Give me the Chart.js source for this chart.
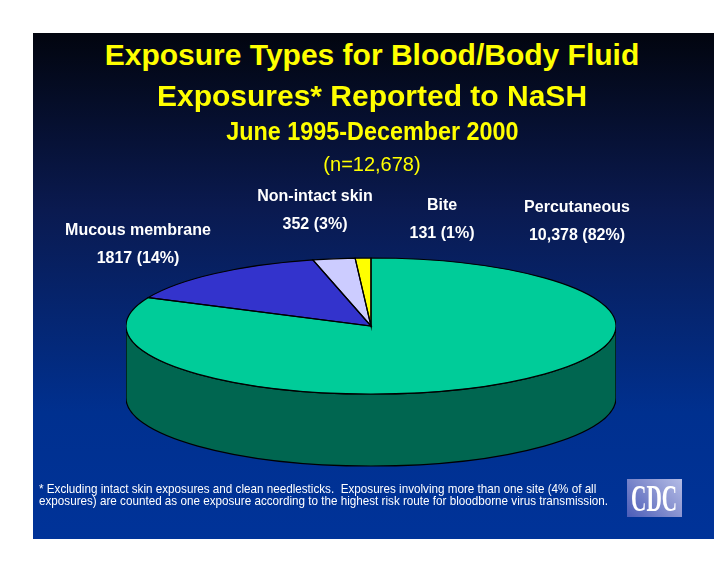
<!DOCTYPE html>
<html>
<head>
<meta charset="utf-8">
<script src="https://cdn.jsdelivr.net/npm/chart.js@4"></script>
<style>
  html, body { margin: 0; padding: 0; background: #fff; width: 728px; height: 563px; overflow: hidden; }
  #slide {
    position: absolute; left: 33px; top: 33px; width: 681px; height: 506px;
    background: linear-gradient(to bottom, #02050f 0%, #0a1a50 35%, #00308f 75%, #003399 100%);
    overflow: hidden;
  }
  .t { position: absolute; left: 8px; width: 728px; text-align: center; white-space: nowrap;
       font-family: "Liberation Sans", Arial, sans-serif; }
  .title { color: #ffff00; font-weight: bold; }
  .lab { position: absolute; color: #fff; font: bold 16px/16px "Liberation Sans", Arial, sans-serif;
         white-space: nowrap; transform: translateX(-50%); }
  #wrap { position: absolute; left: 126px; top: 81px; width: 490px; height: 490px; }
  #note { position: absolute; left: 39px; top: 483px; color: #fff; white-space: pre;
          font: 13px/12px "Liberation Sans", Arial, sans-serif; transform-origin: 0 0; }
  #cdc { position: absolute; left: 627px; top: 479px; width: 55px; height: 38px;
         background: linear-gradient(45deg, #4a5cb8 0%, #8c96d2 60%, #b4bce6 100%);
         display: flex; justify-content: center; align-items: center; overflow: hidden; }
  #cdc span { display: inline-block; color: #fff; font: bold 38px/38px "Liberation Serif", "Times New Roman", serif;
              transform: scaleX(0.56); white-space: nowrap; }
</style>
</head>
<body>
<div id="slide"></div>
<div id="wrap"><canvas id="pizza" width="490" height="490"></canvas></div>

<div class="t title" style="top:40px;font-size:30px;line-height:30px;">Exposure Types for Blood/Body Fluid</div>
<div class="t title" style="top:81px;font-size:30px;line-height:30px;">Exposures* Reported to NaSH</div>
<div class="t title" style="top:119px;font-size:25px;line-height:25px;"><span style="display:inline-block;transform:scaleX(0.935)">June 1995-December 2000</span></div>
<div class="t" style="top:154px;font-size:20px;line-height:20px;color:#ffff00;">(n=12,678)</div>

<div id="labels"></div>

<div id="note">* Excluding intact skin exposures and clean needlesticks.  Exposures involving more than one site (4% of all
exposures) are counted as one exposure according to the highest risk route for bloodborne virus transmission.</div>
<div id="cdc"><span>CDC</span></div>

<script>
// dados (sentido horário a partir do topo)
const categorias = ['Percutaneous', 'Mucous membrane', 'Non-intact skin', 'Bite'];
const valores = [10378, 1817, 352, 131];
const valoresTexto = ['10,378', '1817', '352', '131'];

const coresTopo = ['#00cc99', '#3333cc', '#ccccff', '#ffff00'];
const coresLado = ['#006650', '#1a1a80', '#8080a8', '#9a9a00'];

// posição dos rótulos (centro x, topo da primeira linha)
const posRotulos = [[577, 199], [138, 222], [315, 188], [442, 197]];

const total = valores.reduce((a, b) => a + b, 0);
const labelsDiv = document.getElementById('labels');
categorias.forEach((cat, i) => {
  const pct = Math.round(valores[i] / total * 100);
  const [x, y] = posRotulos[i];
  labelsDiv.innerHTML += `<div class="lab" style="left:${x}px;top:${y}px">${cat}</div>`;
  labelsDiv.innerHTML += `<div class="lab" style="left:${x}px;top:${y + 28}px">${valoresTexto[i]} (${pct}%)</div>`;
});

const INCLINACAO = 68 / 245;
const ALTURA = 72;

// achata a pizza numa elipse e desenha a lateral
const pizza3d = {
  id: 'pizza3d',
  beforeDatasetsDraw(chart) {
    const ctx = chart.ctx;
    const arcos = chart.getDatasetMeta(0).data;
    const cx = arcos[0].x, cy = arcos[0].y, r = arcos[0].outerRadius;
    const ry = r * INCLINACAO;

    ctx.save();
    ctx.lineWidth = 1.2;
    ctx.strokeStyle = '#000';
    arcos.forEach((arco, i) => {
      const s = Math.max(arco.startAngle, 0);
      const e = Math.min(arco.endAngle, Math.PI);
      if (e <= s) return;
      ctx.beginPath();
      ctx.ellipse(cx, cy, r, ry, 0, s, e);
      ctx.ellipse(cx, cy + ALTURA, r, ry, 0, e, s, true);
      ctx.closePath();
      ctx.fillStyle = coresLado[i];
      ctx.fill();
      ctx.stroke();
    });
    ctx.restore();

    ctx.save();
    ctx.translate(cx, cy);
    ctx.scale(1, INCLINACAO);
    ctx.translate(-cx, -cy);
  },
  afterDatasetsDraw(chart) {
    const ctx = chart.ctx;
    ctx.restore();
    const arcos = chart.getDatasetMeta(0).data;
    const cx = arcos[0].x, cy = arcos[0].y, r = arcos[0].outerRadius;
    const ry = r * INCLINACAO;
    ctx.save();
    ctx.lineWidth = 1.2;
    ctx.strokeStyle = '#000';
    arcos.forEach(arco => {
      ctx.beginPath();
      ctx.moveTo(cx, cy);
      ctx.lineTo(cx + r * Math.cos(arco.startAngle), cy + ry * Math.sin(arco.startAngle));
      ctx.ellipse(cx, cy, r, ry, 0, arco.startAngle, arco.endAngle);
      ctx.closePath();
      ctx.stroke();
    });
    ctx.restore();
  }
};

new Chart(document.getElementById('pizza'), {
  type: 'pie',
  data: {
    labels: categorias,
    datasets: [{
      data: valores,
      backgroundColor: coresTopo,
      borderWidth: 0
    }]
  },
  options: {
    responsive: false,
    animation: false,
    events: [],
    layout: { padding: 0 },
    plugins: {
      legend: { display: false },
      tooltip: { enabled: false }
    }
  },
  plugins: [pizza3d]
});

// ajusta a largura da nota de rodapé
const nota = document.getElementById('note');
const larg = nota.getBoundingClientRect().width;
nota.style.transform = `scaleX(${569 / larg})`;
</script>
</body>
</html>
